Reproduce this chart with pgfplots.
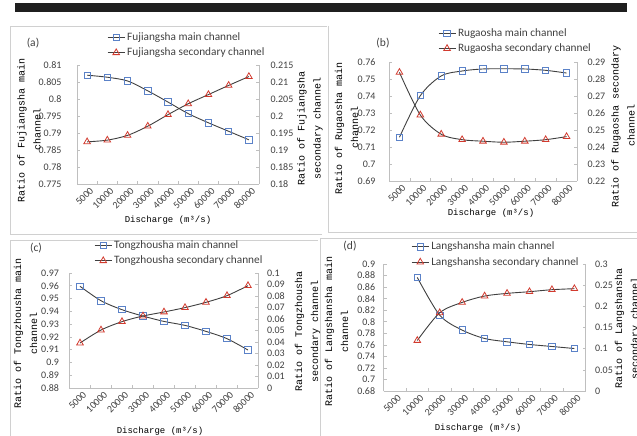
\documentclass[border=0pt]{standalone}
\usepackage{pgfplots}
\pgfplotsset{compat=1.18}
\usepackage{fontspec}
\setmainfont{Carlito}
\newfontfamily\monofont{Liberation Mono}
\definecolor{mblue}{HTML}{5B82C8}
\definecolor{sred}{HTML}{D23A2E}
\definecolor{axgray}{HTML}{BFBFBF}
\definecolor{txt}{HTML}{404040}
\definecolor{frame}{HTML}{D0D0D0}

\pgfplotsset{
 /pgf/number format/assume math mode=true,
 panel/.style={scale only axis, anchor=south west, xmin=-0.5, xmax=8.5, clip=false,
   tick align=inside, axis line style={axgray, line width=0.7pt, -},
   tick style={axgray, line width=0.6pt}, major tick length=3pt, minor tick length=3pt,
   ticklabel style={font=\fontsize{10}{10}\selectfont, text=txt},
   yticklabel={\pgfmathprintnumber[fixed,precision=3]{\tick}},
 },
 leftax/.style={panel, axis x line*=bottom, axis y line*=left,
   xtick={0,...,8}, xticklabels={5000,10000,20000,30000,40000,50000,60000,70000,80000},
   major x tick style={draw=none}, minor xtick={0.5,1.5,...,7.5},
   xticklabel style={rotate=45, anchor=east, yshift=-7pt, xshift=3pt}},
 rightax/.style={panel, axis y line*=right, axis x line=none},
 mainline/.style={black!75, line width=0.9pt, smooth, mark=square, mark size=3.2pt,
   mark options={draw=mblue, fill=white, line width=0.8pt}},
 secline/.style={black!75, line width=0.9pt, smooth, mark=triangle, mark size=3.8pt,
   mark options={draw=sred, fill=white, line width=0.8pt}},
 leg/.style={legend cell align=left, legend style={draw=none, fill=none, inner sep=0pt,
   font=\fontsize{11.3}{11.3}\selectfont, text=txt, row sep=2pt, anchor=north west, at={#1}}},
}
\newcommand{\lbl}{\monofont\fontsize{10}{16}\selectfont}
\newcommand{\xlbl}{\monofont\fontsize{9}{11}\selectfont}
\newcommand{\plbl}{\fontsize{11.5}{12}\selectfont}

\begin{document}
\begin{tikzpicture}[x=1pt,y=1pt]
\useasboundingbox (0,0) rectangle (637,436);
% top bar and panel frames
\fill[black!88] (15,424) rectangle (627,433);
\draw[frame, line width=0.7pt] (322,202) -- (10,202) -- (10,410) -- (327,410);
\draw[frame, line width=0.7pt] (328,410) -- (328,204) -- (637,204);
\draw[frame, line width=0.7pt] (10,0) -- (10,196) -- (318,196);
\draw[frame, line width=0.7pt] (320,0) -- (320,198) -- (637,198);

% ---------------- (a) ----------------
\begin{axis}[leftax, at={(77pt,252pt)}, width=182pt, height=119pt,
  ymin=0.775, ymax=0.81, ytick={0.775,0.78,0.785,0.79,0.795,0.8,0.805,0.81},
  yticklabel style={xshift=-12pt}]
\addplot[mainline] coordinates {(0,0.807)(1,0.8064)(2,0.8053)(3,0.8024)(4,0.7991)(5,0.7957)(6,0.7930)(7,0.7905)(8,0.788)};
\end{axis}
\begin{axis}[rightax, at={(77pt,252pt)}, width=182pt, height=119pt,
  ymin=0.18, ymax=0.215, ytick={0.18,0.185,0.19,0.195,0.2,0.205,0.21,0.215},
  yticklabel style={xshift=8pt}, leg={(0.165,1.29)}]
\addlegendimage{mainline}
\addlegendentry{Fujiangsha main channel}
\addplot[secline] coordinates {(0,0.1924)(1,0.1929)(2,0.1943)(3,0.1970)(4,0.2004)(5,0.2036)(6,0.2063)(7,0.2090)(8,0.2116)};
\addlegendentry{Fujiangsha secondary channel}
\end{axis}
\node[font=\plbl, text=txt] at (33,393) {(a)};
\node[rotate=90, align=center, font=\lbl] at (29,306) {Ratio of Fujiangsha main\\channel};
\node[rotate=90, align=center, font=\lbl] at (310,308) {Ratio of Fujiangsha\\secondary channel};
\node[font=\xlbl] at (168,216) {Discharge (m³/s)};

% ---------------- (b) ----------------
\begin{axis}[leftax, at={(389pt,255pt)}, width=188pt, height=119pt,
  ymin=0.69, ymax=0.76, ytick={0.69,0.7,0.71,0.72,0.73,0.74,0.75,0.76},
  yticklabel style={xshift=-10pt}]
\addplot[mainline] coordinates {(0,0.7157)(1,0.7402)(2,0.7518)(3,0.7547)(4,0.7559)(5,0.7560)(6,0.7559)(7,0.7551)(8,0.7535)};
\end{axis}
\begin{axis}[rightax, at={(389pt,255pt)}, width=188pt, height=119pt,
  ymin=0.22, ymax=0.29, ytick={0.22,0.23,0.24,0.25,0.26,0.27,0.28,0.29},
  yticklabel style={xshift=7pt}, leg={(0.26,1.30)}]
\addlegendimage{mainline}
\addlegendentry{Rugaosha main channel}
\addplot[secline] coordinates {(0,0.2839)(1,0.2588)(2,0.2475)(3,0.2443)(4,0.2434)(5,0.2428)(6,0.2434)(7,0.2443)(8,0.2461)};
\addlegendentry{Rugaosha secondary channel}
\end{axis}
\node[font=\plbl, text=txt] at (383,393) {(b)};
\node[rotate=90, align=center, font=\lbl] at (346.5,308) {Ratio of Rugaosha main\\channel};
\node[rotate=90, align=center, font=\lbl] at (623,310) {Ratio of Rugaosha secondary\\channel};
\node[font=\xlbl] at (491,223) {Discharge (m³/s)};

% ---------------- (c) ----------------
\begin{axis}[leftax, at={(69.5pt,48pt)}, width=189pt, height=115pt,
  ymin=0.88, ymax=0.97, ytick={0.88,0.89,0.9,0.91,0.92,0.93,0.94,0.95,0.96,0.97},
  yticklabel style={xshift=-7pt}]
\addplot[mainline] coordinates {(0,0.9596)(1,0.9483)(2,0.9413)(3,0.9363)(4,0.9321)(5,0.9290)(6,0.9243)(7,0.9186)(8,0.9097)};
\end{axis}
\begin{axis}[rightax, at={(69.5pt,48pt)}, width=189pt, height=115pt,
  ymin=0, ymax=0.1, ytick={0,0.01,0.02,0.03,0.04,0.05,0.06,0.07,0.08,0.09,0.1},
  yticklabel style={xshift=5pt}, leg={(0.13,1.30)}]
\addlegendimage{mainline}
\addlegendentry{Tongzhousha main channel}
\addplot[secline] coordinates {(0,0.0391)(1,0.0504)(2,0.0577)(3,0.0626)(4,0.0661)(5,0.0699)(6,0.0745)(7,0.0803)(8,0.0890)};
\addlegendentry{Tongzhousha secondary channel}
\end{axis}
\node[font=\plbl, text=txt] at (36,188) {(c)};
\node[rotate=90, align=center, font=\lbl] at (25.5,103) {Ratio of Tongzhousha main\\channel};
\node[rotate=90, align=center, font=\lbl] at (307.5,105) {Ratio of Tongzhousha\\secondary channel};
\node[font=\xlbl] at (160,5) {Discharge (m³/s)};

% ---------------- (d) ----------------
\begin{axis}[leftax, at={(383.6pt,45pt)}, width=202pt, height=127pt,
  ymin=0.68, ymax=0.9, ytick={0.68,0.7,0.72,0.74,0.76,0.78,0.8,0.82,0.84,0.86,0.88,0.9},
  yticklabel style={xshift=-5pt}]
\addplot[mainline] coordinates {(1,0.8768)(2,0.8113)(3,0.7855)(4,0.7710)(5,0.7652)(6,0.7606)(7,0.7571)(8,0.7536)};
\end{axis}
\begin{axis}[rightax, at={(383.6pt,45pt)}, width=202pt, height=127pt,
  ymin=0, ymax=0.3, ytick={0,0.05,0.1,0.15,0.2,0.25,0.3},
  yticklabel style={xshift=6pt}, leg={(0.136,1.19)}]
\addlegendimage{mainline}
\addlegendentry{Langshansha main channel}
\addplot[secline] coordinates {(1,0.1193)(2,0.1848)(3,0.2093)(4,0.2243)(5,0.2306)(6,0.2346)(7,0.2393)(8,0.2417)};
\addlegendentry{Langshansha secondary channel}
\end{axis}
\node[font=\plbl, text=txt] at (350,190) {(d)};
\node[rotate=90, align=center, font=\lbl] at (336.5,105) {Ratio of Langshansha main\\channel};
\node[rotate=90, align=center, font=\lbl] at (627.5,108) {Ratio of Langshansha\\secondary channel};
\node[font=\xlbl] at (478,8) {Discharge (m³/s)};
\end{tikzpicture}
\end{document}
